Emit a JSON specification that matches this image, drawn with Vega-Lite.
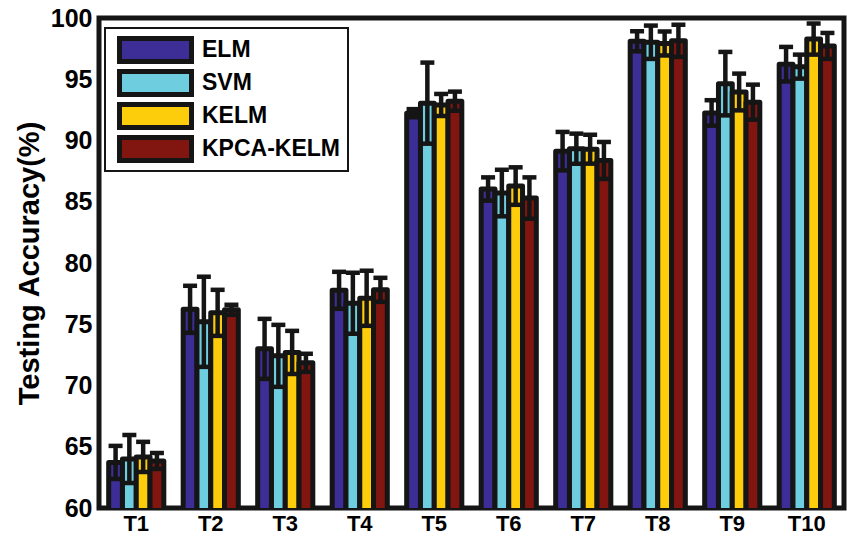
{
  "$schema": "https://vega.github.io/schema/vega-lite/v6.json",
  "width": 745,
  "height": 490,
  "autosize": "none",
  "padding": {"left": 99, "top": 18, "right": 3, "bottom": 31},
  "background": "white",
  "config": {
    "view": {"stroke": "#151515", "strokeWidth": 5},
    "font": "Liberation Sans",
    "legend": {"strokeWidth": 2}
  },
  "data": {
    "values": [
      {"t": "T1", "m": "ELM", "v": 63.72, "lo": 62.37, "hi": 65.07},
      {"t": "T1", "m": "SVM", "v": 64.0, "lo": 62.04, "hi": 65.96},
      {"t": "T1", "m": "KELM", "v": 64.17, "lo": 62.94, "hi": 65.40},
      {"t": "T1", "m": "KPCA-KELM", "v": 63.84, "lo": 63.19, "hi": 64.49},
      {"t": "T2", "m": "ELM", "v": 76.22, "lo": 74.30, "hi": 78.14},
      {"t": "T2", "m": "SVM", "v": 75.2, "lo": 71.52, "hi": 78.88},
      {"t": "T2", "m": "KELM", "v": 75.93, "lo": 74.05, "hi": 77.81},
      {"t": "T2", "m": "KPCA-KELM", "v": 76.18, "lo": 75.77, "hi": 76.59},
      {"t": "T3", "m": "ELM", "v": 72.99, "lo": 70.54, "hi": 75.44},
      {"t": "T3", "m": "SVM", "v": 72.42, "lo": 69.89, "hi": 74.95},
      {"t": "T3", "m": "KELM", "v": 72.7, "lo": 70.94, "hi": 74.46},
      {"t": "T3", "m": "KPCA-KELM", "v": 71.85, "lo": 71.11, "hi": 72.59},
      {"t": "T4", "m": "ELM", "v": 77.77, "lo": 76.26, "hi": 79.28},
      {"t": "T4", "m": "SVM", "v": 76.71, "lo": 74.22, "hi": 79.20},
      {"t": "T4", "m": "KELM", "v": 77.12, "lo": 74.87, "hi": 79.37},
      {"t": "T4", "m": "KPCA-KELM", "v": 77.81, "lo": 76.83, "hi": 78.79},
      {"t": "T5", "m": "ELM", "v": 92.23, "lo": 91.90, "hi": 92.56},
      {"t": "T5", "m": "SVM", "v": 93.05, "lo": 89.74, "hi": 96.36},
      {"t": "T5", "m": "KELM", "v": 92.9, "lo": 92.0, "hi": 93.8},
      {"t": "T5", "m": "KPCA-KELM", "v": 93.21, "lo": 92.43, "hi": 93.99},
      {"t": "T6", "m": "ELM", "v": 86.04, "lo": 85.09, "hi": 86.99},
      {"t": "T6", "m": "SVM", "v": 85.71, "lo": 83.81, "hi": 87.61},
      {"t": "T6", "m": "KELM", "v": 86.28, "lo": 84.75, "hi": 87.81},
      {"t": "T6", "m": "KPCA-KELM", "v": 85.3, "lo": 83.61, "hi": 86.99},
      {"t": "T7", "m": "ELM", "v": 89.13, "lo": 87.56, "hi": 90.70},
      {"t": "T7", "m": "SVM", "v": 89.33, "lo": 88.10, "hi": 90.56},
      {"t": "T7", "m": "KELM", "v": 89.29, "lo": 88.11, "hi": 90.47},
      {"t": "T7", "m": "KPCA-KELM", "v": 88.37, "lo": 86.86, "hi": 89.88},
      {"t": "T8", "m": "ELM", "v": 98.1, "lo": 97.28, "hi": 98.92},
      {"t": "T8", "m": "SVM", "v": 98.02, "lo": 96.66, "hi": 99.38},
      {"t": "T8", "m": "KELM", "v": 97.92, "lo": 96.94, "hi": 98.90},
      {"t": "T8", "m": "KPCA-KELM", "v": 98.14, "lo": 96.83, "hi": 99.45},
      {"t": "T9", "m": "ELM", "v": 92.25, "lo": 91.21, "hi": 93.29},
      {"t": "T9", "m": "SVM", "v": 94.64, "lo": 92.05, "hi": 97.23},
      {"t": "T9", "m": "KELM", "v": 93.96, "lo": 92.46, "hi": 95.46},
      {"t": "T9", "m": "KPCA-KELM", "v": 93.13, "lo": 91.70, "hi": 94.56},
      {"t": "T10", "m": "ELM", "v": 96.23, "lo": 94.82, "hi": 97.64},
      {"t": "T10", "m": "SVM", "v": 96.03, "lo": 95.05, "hi": 97.01},
      {"t": "T10", "m": "KELM", "v": 98.28, "lo": 97.01, "hi": 99.55},
      {"t": "T10", "m": "KPCA-KELM", "v": 97.72, "lo": 96.66, "hi": 98.78}
    ]
  },
  "encoding": {
    "x": {
      "field": "t", "type": "nominal",
      "sort": ["T1", "T2", "T3", "T4", "T5", "T6", "T7", "T8", "T9", "T10"],
      "scale": {"paddingInner": 0.26, "paddingOuter": 0.13},
      "axis": {"labelAngle": 0, "labelFontSize": 22, "labelFontWeight": "bold", "labelColor": "black", "ticks": false, "domain": false, "title": null, "labelPadding": 5, "grid": false}
    },
    "xOffset": {
      "field": "m", "type": "nominal",
      "sort": ["ELM", "SVM", "KELM", "KPCA-KELM"],
      "scale": {"paddingInner": 0, "paddingOuter": 0}
    }
  },
  "layer": [
    {
      "mark": {"type": "bar", "stroke": "#151515", "strokeWidth": 5, "strokeJoin": "round", "clip": true, "opacity": 1},
      "encoding": {
        "y": {
          "field": "v", "type": "quantitative",
          "scale": {"domain": [60, 100], "nice": false, "zero": false},
          "axis": {"values": [60, 65, 70, 75, 80, 85, 90, 95, 100], "labelFontSize": 25, "labelFontWeight": "bold", "labelColor": "black", "ticks": false, "domain": false, "grid": false, "labelPadding": 7, "title": "Testing Accuracy(%)", "titleFontSize": 29, "titleFontWeight": "bold", "titleColor": "black", "titlePadding": 6},
          "title": "Testing Accuracy(%)"
        },
        "fill": {
          "field": "m", "type": "nominal",
          "sort": ["ELM", "SVM", "KELM", "KPCA-KELM"],
          "scale": {"domain": ["ELM", "SVM", "KELM", "KPCA-KELM"], "range": ["#3c2e96", "#6fcde0", "#fdcd0b", "#80160f"]},
          "legend": {
            "orient": "none", "legendX": 6, "legendY": 10, "title": null,
            "fillColor": "white", "strokeColor": "#151515", "padding": 8,
            "symbolType": "M-1,-0.32H1V0.32H-1Z", "symbolSize": 5184,
            "symbolStrokeColor": "#151515", "symbolStrokeWidth": 5, "symbolOpacity": 1,
            "labelFontSize": 23, "labelFontWeight": "bold", "labelColor": "black",
            "labelOffset": 8, "clipHeight": 28, "rowPadding": 5, "symbolOffset": 4
          }
        }
      }
    },
    {
      "mark": {"type": "rule", "stroke": "#151515", "strokeWidth": 4.5},
      "encoding": {
        "y": {"field": "lo", "type": "quantitative", "title": "Testing Accuracy(%)"},
        "y2": {"field": "hi"}
      }
    },
    {
      "mark": {"type": "tick", "color": "#151515", "thickness": 4.5, "size": 14, "opacity": 1},
      "encoding": {
        "y": {"field": "hi", "type": "quantitative", "title": "Testing Accuracy(%)"}
      }
    },
    {
      "mark": {"type": "tick", "color": "#151515", "thickness": 4.5, "size": 14, "opacity": 1},
      "encoding": {
        "y": {"field": "lo", "type": "quantitative", "title": "Testing Accuracy(%)"}
      }
    }
  ]
}
